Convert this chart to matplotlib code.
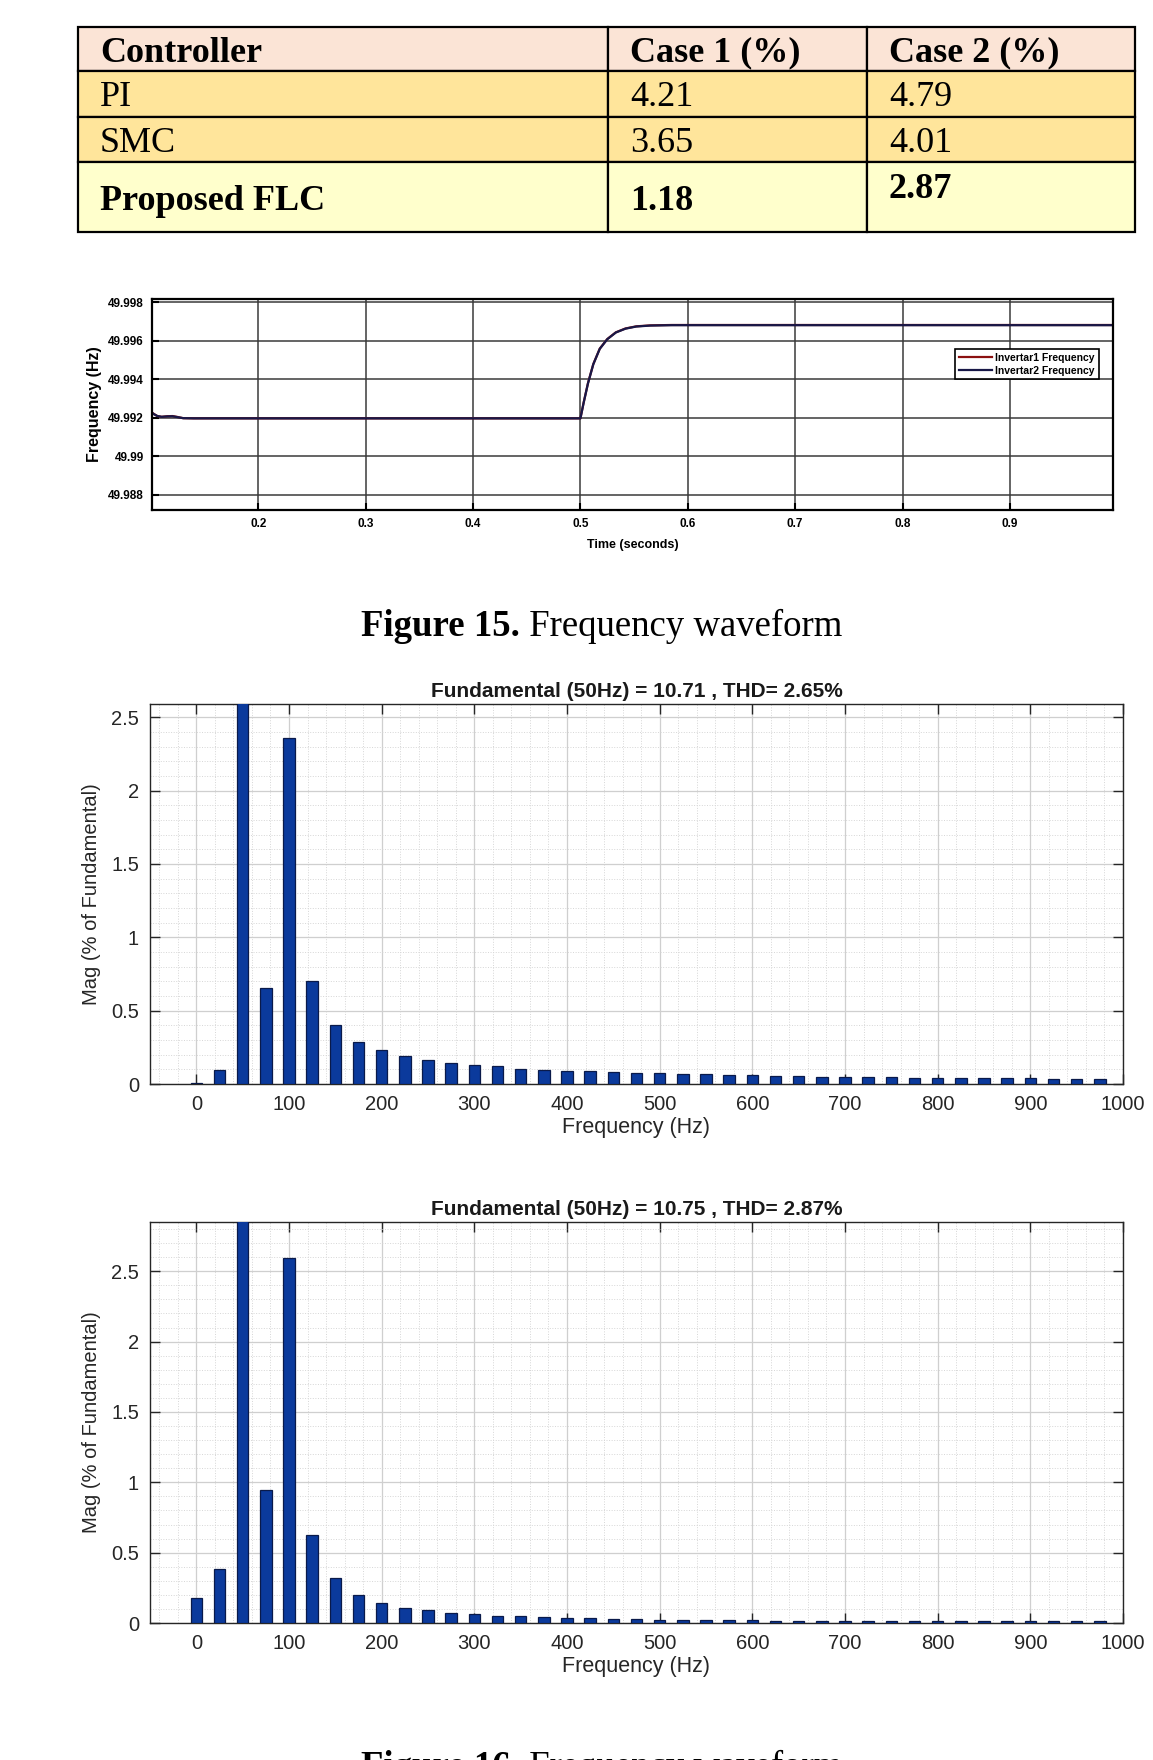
import matplotlib.pyplot as plt
from matplotlib.patches import Rectangle
from matplotlib.ticker import MultipleLocator, FuncFormatter

# ---- table data ----
header = ['Controller', 'Case 1 (%)', 'Case 2 (%)']
controllers = ['PI', 'SMC', 'Proposed FLC']
case1 = ['4.21', '3.65', '1.18']
case2 = ['4.79', '4.01', '2.87']

# ---- frequency waveform (Figure 15) ----
t = [0.100, 0.103, 0.106, 0.110, 0.115, 0.120, 0.125, 0.130, 0.140, 0.200,
     0.300, 0.400, 0.500, 0.503, 0.507, 0.512, 0.518, 0.525, 0.533, 0.542,
     0.552, 0.565, 0.585, 0.700, 0.800, 0.900, 1.000]
f_inv1 = [49.99232, 49.99220, 49.99210, 49.99206, 49.99209, 49.99210, 49.99205,
          49.99199, 49.99198, 49.99198, 49.99198, 49.99198, 49.99198, 49.99280,
          49.99380, 49.99480, 49.99560, 49.99610, 49.99645, 49.99665, 49.99676,
          49.99681, 49.99683, 49.99683, 49.99683, 49.99683, 49.99683]
f_inv2 = [49.99230, 49.99219, 49.99210, 49.99206, 49.99208, 49.99209, 49.99204,
          49.99199, 49.99198, 49.99198, 49.99198, 49.99198, 49.99198, 49.99279,
          49.99379, 49.99479, 49.99559, 49.99609, 49.99644, 49.99664, 49.99675,
          49.99680, 49.99682, 49.99682, 49.99682, 49.99682, 49.99682]

# ---- harmonic spectra (Figure 16) ----
harm_freq = list(range(0, 1000, 25))
mag1 = [0.008, 0.096, 100, 0.653, 2.357, 0.701, 0.403, 0.289, 0.230, 0.191,
        0.166, 0.146, 0.130, 0.121, 0.105, 0.098, 0.091, 0.087, 0.080, 0.075,
        0.073, 0.068, 0.066, 0.061, 0.059, 0.057, 0.055, 0.050, 0.050, 0.048,
        0.045, 0.043, 0.043, 0.041, 0.040, 0.039, 0.039, 0.037, 0.036, 0.036]
mag2 = [0.179, 0.387, 100, 0.944, 2.592, 0.626, 0.319, 0.201, 0.142, 0.106,
        0.090, 0.073, 0.064, 0.050, 0.047, 0.041, 0.038, 0.034, 0.029, 0.026,
        0.024, 0.022, 0.020, 0.019, 0.018, 0.017, 0.017, 0.016, 0.016, 0.015,
        0.015, 0.014, 0.014, 0.014, 0.013, 0.013, 0.013, 0.012, 0.012, 0.012]
titles = ['Fundamental (50Hz) = 10.71 , THD= 2.65%',
          'Fundamental (50Hz) = 10.75 , THD= 2.87%']
ylims = [2.59, 2.85]

W, H = 1153, 1760
fig = plt.figure(figsize=(W / 100, H / 100), dpi=100)
fig.patch.set_facecolor('white')

# overlay in pixel coordinates for table + captions
ax0 = fig.add_axes([0, 0, 1, 1])
ax0.set_xlim(0, W)
ax0.set_ylim(H, 0)
ax0.axis('off')

serif = ['Liberation Serif', 'DejaVu Serif']
col_x = [78, 608, 867, 1135]
row_y = [27, 71, 117, 162, 232]
row_colors = ['#fbe4d6', '#ffe59b', '#ffe59b', '#ffffcc']
for i, c in enumerate(row_colors):
    for j in range(3):
        ax0.add_patch(Rectangle((col_x[j], row_y[i]), col_x[j + 1] - col_x[j],
                                row_y[i + 1] - row_y[i], facecolor=c,
                                edgecolor='black', lw=1.6))

fs_tab = 26
pad = 22
for j, h in enumerate(header):
    ax0.text(col_x[j] + pad, 53, h, fontsize=fs_tab, fontweight='bold',
             family=serif, va='center')
for i in range(3):
    bold = 'bold' if i == 2 else 'normal'
    yc = (row_y[i + 1] + row_y[i + 2]) / 2 + 4
    ax0.text(col_x[0] + pad, yc, controllers[i], fontsize=fs_tab,
             fontweight=bold, family=serif, va='center')
    ax0.text(col_x[1] + pad, yc, case1[i], fontsize=fs_tab,
             fontweight=bold, family=serif, va='center')
    y2 = yc - 12 if i == 2 else yc
    ax0.text(col_x[2] + pad, y2, case2[i], fontsize=fs_tab,
             fontweight=bold, family=serif, va='center')


def caption(y, bold, rest, va):
    t1 = ax0.text(361, y, bold, fontsize=26.5, fontweight='bold',
                  family=serif, va=va, ha='left')
    ax0.annotate(rest, xy=(1, 0), xycoords=t1, fontsize=26.5, family=serif,
                 va='bottom', ha='left')


caption(627, 'Figure 15.', ' Frequency waveform', 'center')
# only the top of this caption shows at the page edge, as in the source
caption(1750, 'Figure 16.', ' Frequency waveform', 'top')

# ---- Figure 15 frequency axes ----
narrow = ['Liberation Sans Narrow', 'Liberation Sans', 'DejaVu Sans']
ax1 = fig.add_axes([152 / W, 1 - 510 / H, 961 / W, 211 / H])
ax1.plot(t, f_inv1, color='#8b1010', lw=1.6, label='Invertar1 Frequency')
ax1.plot(t, f_inv2, color='#181848', lw=1.6, label='Invertar2 Frequency')
ax1.set_xlim(0.101, 0.996)
ax1.set_ylim(49.98722, 49.99818)
ax1.set_xticks([0.2, 0.3, 0.4, 0.5, 0.6, 0.7, 0.8, 0.9])
ax1.set_xticklabels(['0.2', '0.3', '0.4', '0.5', '0.6', '0.7', '0.8', '0.9'])
yt = [49.988, 49.990, 49.992, 49.994, 49.996, 49.998]
ax1.set_yticks(yt)
ax1.set_yticklabels(['49.988', '49.99', '49.992', '49.994', '49.996', '49.998'])
ax1.grid(True, color='#3a3a3a', lw=1.1)
ax1.tick_params(direction='in', length=5, width=1.5, labelsize=8.5, pad=6)
for lab in ax1.get_xticklabels() + ax1.get_yticklabels():
    lab.set_family(narrow)
    lab.set_fontweight('bold')
for s in ax1.spines.values():
    s.set_linewidth(1.6)
ax1.set_xlabel('Time (seconds)', fontsize=9, fontweight='bold', family=narrow,
               labelpad=6)
ax1.set_ylabel('Frequency (Hz)', fontsize=11.5, fontweight='bold',
               family=['Liberation Sans', 'DejaVu Sans'], labelpad=4)
leg = ax1.legend(loc='upper right', bbox_to_anchor=(0.985, 0.763),
                 fancybox=False, framealpha=1, edgecolor='black',
                 handlelength=3.2, borderpad=0.35, labelspacing=0.3,
                 handletextpad=0.3, borderaxespad=0,
                 prop={'family': narrow, 'weight': 'bold', 'size': 7.5})
leg.get_frame().set_linewidth(1.2)

# ---- Figure 16 spectra ----
sans = ['Liberation Sans', 'DejaVu Sans']
rects = [[150 / W, 1 - 1084 / H, 973 / W, 380 / H],
         [150 / W, 1 - 1623 / H, 973 / W, 401 / H]]
for k, mag in enumerate([mag1, mag2]):
    ax = fig.add_axes(rects[k])
    ax.bar(harm_freq, mag, width=12.5, color='#0b3a9c', edgecolor='#0a1a4a',
           lw=0.9, zorder=3)
    ax.set_xlim(-50, 1000)
    ax.set_ylim(0, ylims[k])
    ax.xaxis.set_major_locator(MultipleLocator(100))
    ax.yaxis.set_major_locator(MultipleLocator(0.5))
    ax.xaxis.set_minor_locator(MultipleLocator(20))
    ax.yaxis.set_minor_locator(MultipleLocator(0.1))
    ax.yaxis.set_major_formatter(FuncFormatter(lambda v, p: '%g' % v))
    ax.grid(True, which='major', color='#cfcfcf', lw=0.9, zorder=0)
    ax.grid(True, which='minor', color='#d6d6d6', lw=0.7, ls=':', zorder=0)
    ax.set_axisbelow(True)
    ax.tick_params(which='major', direction='in', top=True, right=True,
                   length=7, width=1.0, labelsize=14.5, colors='#262626',
                   pad=8)
    ax.tick_params(which='minor', length=0)
    for lab in ax.get_xticklabels() + ax.get_yticklabels():
        lab.set_family(sans)
    for s in ax.spines.values():
        s.set_linewidth(1.0)
        s.set_color('#262626')
    ax.set_title(titles[k], fontsize=15, fontweight='bold', family=sans,
                 color='#1a1a1a', pad=5)
    ax.set_xlabel('Frequency (Hz)', fontsize=15.5, family=sans,
                  color='#262626', labelpad=2)
    ax.set_ylabel('Mag (% of Fundamental)', fontsize=14.5, family=sans,
                  color='#262626', labelpad=7)

fig.savefig('out.png', dpi=100)
